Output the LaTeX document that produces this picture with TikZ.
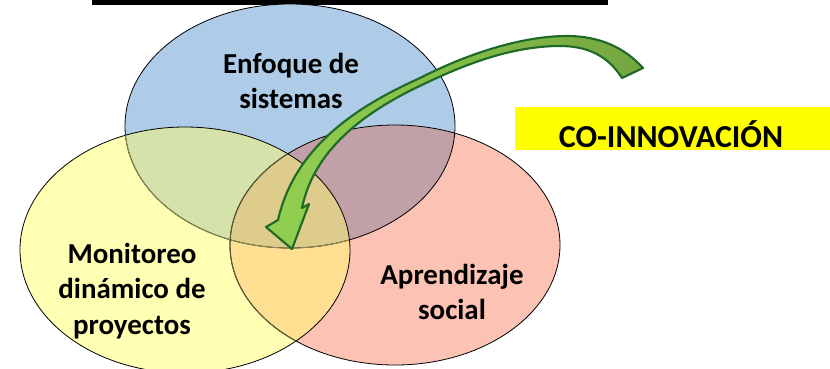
\documentclass[tikz,border=0pt]{standalone}
\usepackage{fontspec}
\setmainfont{Carlito}
\definecolor{cblue}{HTML}{AECBE8}
\definecolor{cyel}{HTML}{FFFFB4}
\definecolor{cpink}{HTML}{FCC3B4}
\definecolor{cby}{HTML}{D5E2AA}
\definecolor{cbp}{HTML}{C2A0A7}
\definecolor{cyp}{HTML}{FFE092}
\definecolor{cbyp}{HTML}{DECC8C}
\definecolor{olivel}{HTML}{8A8A50}
\definecolor{oliveb}{HTML}{5E5A34}
\definecolor{ghead}{HTML}{92D050}
\definecolor{gtail}{HTML}{74A641}
\definecolor{gline}{HTML}{1F6A28}
\definecolor{boxy}{HTML}{FFFF00}
\begin{document}
\begin{tikzpicture}[x=0.75pt,y=-0.75pt,
  lbl/.style={font=\bfseries\fontsize{21.7}{26.5}\selectfont, align=center, inner sep=0pt, text=black},
  cobox/.style={font=\bfseries\fontsize{24}{28}\selectfont, inner sep=0pt, text=black},
  circ/.style={draw=black, line width=0.6pt},
  arrowst/.style={draw=gline, line width=1.6pt, line join=round, left color=ghead, right color=gtail}]
\useasboundingbox (0,0) rectangle (830,368);
\clip (0,0) rectangle (830,368);
\def\blueE{(290,126) ellipse [x radius=123.75pt, y radius=91.5pt]}
\def\yelE{(185,250) ellipse [x radius=123.75pt, y radius=92.25pt]}
\def\pinkE{(395,245) ellipse [x radius=123.75pt, y radius=90pt]}
% top black bar
\fill[black] (92,0) rectangle (608,4.5);
% base fills
\fill[cblue] \blueE;
\fill[cyel] \yelE;
\fill[cpink] \pinkE;
% overlaps
\begin{scope}\clip \blueE; \fill[cby] \yelE; \fill[cbp] \pinkE; \end{scope}
\begin{scope}\clip \yelE; \fill[cyp] \pinkE; \end{scope}
\begin{scope}\clip \blueE; \clip \yelE; \fill[cbyp] \pinkE; \end{scope}
% outlines
\draw[circ] \blueE;
\draw[circ] \yelE;
\draw[circ] \pinkE;
\begin{scope}\clip \yelE;
  \draw[line width=0.7pt, draw=olivel] \blueE;
  \draw[line width=0.7pt, draw=oliveb] \pinkE;
\end{scope}
% labels
\node[lbl] (enf) at (291,81) {Enfoque de\\sistemas};
\node[lbl] (mon) at (132,291) {Monitoreo\\dinámico de\\proyectos};
\node[lbl] (apr) at (452,292) {Aprendizaje\\social};
% yellow box
\fill[boxy] (515,107) rectangle (830,150);
\node[cobox, anchor=base] (co) at (671,147) {CO-INNOVACIÓN};
% curved arrow
\path[arrowst] (643,68) .. controls (625,48) and (600,36) .. (567,36)
  .. controls (520,36) and (465,55) .. (420,78)
  .. controls (360,105) and (295,145) .. (278,220)
  -- (266,227) -- (292,249) -- (309,204) -- (302,208)
  .. controls (315,145) and (372,108) .. (426,83)
  .. controls (470,62) and (515,46) .. (560,46)
  .. controls (588,46) and (608,56) .. (622,78) -- cycle;
\end{tikzpicture}
\end{document}
